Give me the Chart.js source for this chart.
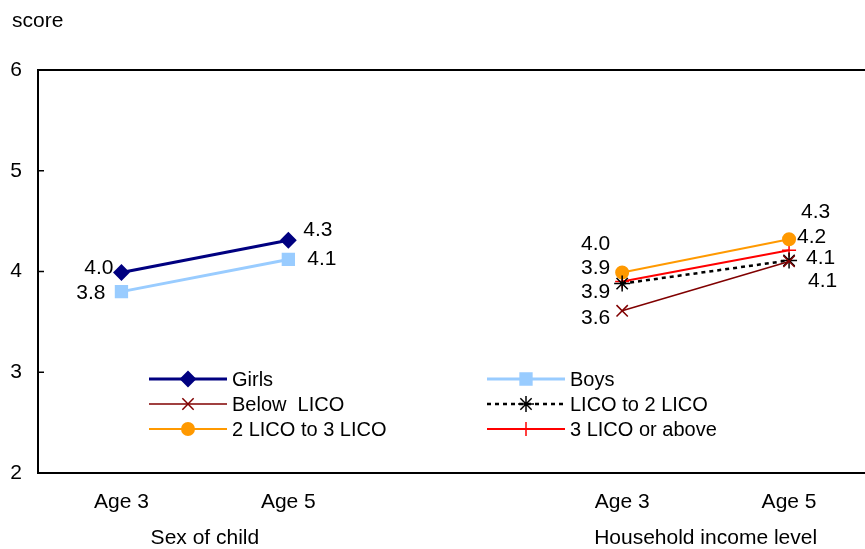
<!DOCTYPE html>
<html lang="en">
<head>
  <meta charset="UTF-8">
  <title>Score by age</title>
  <script src="https://cdn.jsdelivr.net/npm/chart.js"></script>
  <style>
    html, body { margin: 0; padding: 0; background: #fff; overflow: hidden; }
    #chart-container { width: 865px; height: 549px; position: relative; }
  </style>
</head>
<body>
  <div id="chart-container">
    <canvas id="scoreChart"></canvas>
  </div>
  <script>
    // Data
    const xSlots = [1, 2, 4, 5];
    const ageLabels = ['Age 3', 'Age 5', 'Age 3', 'Age 5'];
    const groupLabels = ['Sex of child', 'Household income level'];
    const yTicks = [2, 3, 4, 5, 6];

    const girls = [3.99, 4.31];
    const boys = [3.80, 4.12];
    const belowLico = [3.61, 4.10];
    const lico1to2 = [3.88, 4.11];
    const lico2to3 = [3.99, 4.32];
    const lico3plus = [3.90, 4.21];

    const font = "'Liberation Sans', Arial, sans-serif";

    function points(vals, slots) {
      return vals.map((v, i) => ({ x: slots[i], y: v }));
    }

    // label offsets (dx, dy, align) per dataset, per point
    const labelOffsets = [
      [[-8, -4, 'right'], [15, -10, 'left']],
      [[-16, 2, 'right'], [19, 0, 'left']],
      [[-12, 7, 'right'], [19, 20, 'left']],
      [[-12, 9, 'right'], [17, -2, 'left']],
      [[-12, -28, 'right'], [12, -27, 'left']],
      [[-12, -13, 'right'], [8, -13, 'left']]
    ];

    const extrasPlugin = {
      id: 'extras',
      afterDraw(chart) {
        const { ctx, chartArea: area, scales: { x, y } } = chart;
        ctx.save();
        // top border
        ctx.strokeStyle = '#000';
        ctx.lineWidth = 2;
        ctx.beginPath();
        ctx.moveTo(area.left - 1, area.top);
        ctx.lineTo(area.right, area.top);
        ctx.stroke();
        // inward ticks
        ctx.lineWidth = 1.5;
        yTicks.forEach(v => {
          const py = y.getPixelForValue(v);
          ctx.beginPath();
          ctx.moveTo(area.left, py);
          ctx.lineTo(area.left + 6, py);
          ctx.stroke();
        });
        // axis title
        ctx.fillStyle = '#000';
        ctx.font = '21px ' + font;
        ctx.textAlign = 'left';
        ctx.textBaseline = 'alphabetic';
        ctx.fillText('score', 12, 27);
        // category and group labels
        ctx.textBaseline = 'middle';
        ctx.textAlign = 'center';
        xSlots.forEach((v, i) => {
          ctx.fillText(ageLabels[i], x.getPixelForValue(v), 502);
        });
        ctx.fillText(groupLabels[0], x.getPixelForValue((xSlots[0] + xSlots[1]) / 2), 538);
        ctx.fillText(groupLabels[1], x.getPixelForValue((xSlots[2] + xSlots[3]) / 2), 538);
        // data labels
        chart.data.datasets.forEach((ds, di) => {
          const meta = chart.getDatasetMeta(di);
          meta.data.forEach((pt, pi) => {
            const [dx, dy, align] = labelOffsets[di][pi];
            ctx.textAlign = align;
            ctx.fillText(ds.data[pi].y.toFixed(1), pt.x + dx, pt.y + dy);
          });
        });
        // legend
        const colX = [149, 487];
        const rowY = 379, rowGap = 25, lineLen = 78;
        ctx.font = '20px ' + font;
        ctx.textAlign = 'left';
        chart.data.datasets.forEach((ds, i) => {
          const lx = colX[i % 2];
          const ly = rowY + Math.floor(i / 2) * rowGap;
          ctx.strokeStyle = ds.borderColor;
          ctx.lineWidth = ds.borderWidth;
          ctx.setLineDash(ds.borderDash || []);
          ctx.beginPath();
          ctx.moveTo(lx, ly);
          ctx.lineTo(lx + lineLen, ly);
          ctx.stroke();
          ctx.setLineDash([]);
          ctx.fillStyle = ds.pointBackgroundColor;
          ctx.strokeStyle = ds.pointBorderColor;
          ctx.lineWidth = ds.pointBorderWidth;
          Chart.helpers.drawPoint(ctx, {
            pointStyle: ds.pointStyle, radius: ds.pointRadius, rotation: 0, borderWidth: ds.pointBorderWidth
          }, lx + lineLen / 2, ly);
          ctx.fillStyle = '#000';
          ctx.fillText(ds.label, lx + lineLen + 5, ly + 1);
        });
        ctx.restore();
      }
    };

    function series(label, vals, slots, color, width, style, radius, extra) {
      return Object.assign({
        label: label,
        data: points(vals, slots),
        borderColor: color,
        borderWidth: width,
        pointStyle: style,
        pointRadius: radius,
        pointHoverRadius: radius,
        pointBackgroundColor: color,
        pointBorderColor: color,
        pointBorderWidth: 2,
        tension: 0
      }, extra || {});
    }

    const ctx = document.getElementById('scoreChart').getContext('2d');
    new Chart(ctx, {
      type: 'line',
      data: {
        datasets: [
          series('Girls', girls, xSlots.slice(0, 2), '#000080', 3, 'rectRot', 7),
          series('Boys', boys, xSlots.slice(0, 2), '#99CCFF', 3, 'rect', 8),
          series('Below  LICO', belowLico, xSlots.slice(2), '#800000', 1.5, 'crossRot', 8, { pointBorderWidth: 1.5 }),
          series('LICO to 2 LICO', lico1to2, xSlots.slice(2), '#000000', 2.5, 'star', 8, { borderDash: [4, 4], pointBorderWidth: 1.5 }),
          series('2 LICO to 3 LICO', lico2to3, xSlots.slice(2), '#FF9900', 2, 'circle', 6),
          series('3 LICO or above', lico3plus, xSlots.slice(2), '#FF0000', 2, 'cross', 7, { pointBorderWidth: 1.5 })
        ]
      },
      options: {
        responsive: true,
        maintainAspectRatio: false,
        animation: false,
        layout: { autoPadding: false, padding: { top: 70, right: 0, left: 0, bottom: 0 } },
        plugins: {
          legend: { display: false },
          tooltip: { enabled: false }
        },
        scales: {
          x: {
            type: 'linear',
            min: 0.5,
            max: 5.455,
            afterBuildTicks(scale) { scale.ticks = xSlots.map(v => ({ value: v })); },
            afterFit(scale) { scale.height = 76; },
            grid: { display: true, drawOnChartArea: false, drawTicks: false },
            border: { display: true, color: '#000', width: 2 },
            ticks: { display: false }
          },
          y: {
            min: 2,
            max: 6,
            afterFit(scale) { scale.width = 38; },
            grid: { display: true, drawOnChartArea: false, drawTicks: false },
            border: { display: true, color: '#000', width: 2 },
            ticks: {
              stepSize: 1,
              padding: 16,
              color: '#000',
              font: { family: font, size: 21 }
            }
          }
        }
      },
      plugins: [extrasPlugin]
    });
  </script>
</body>
</html>
